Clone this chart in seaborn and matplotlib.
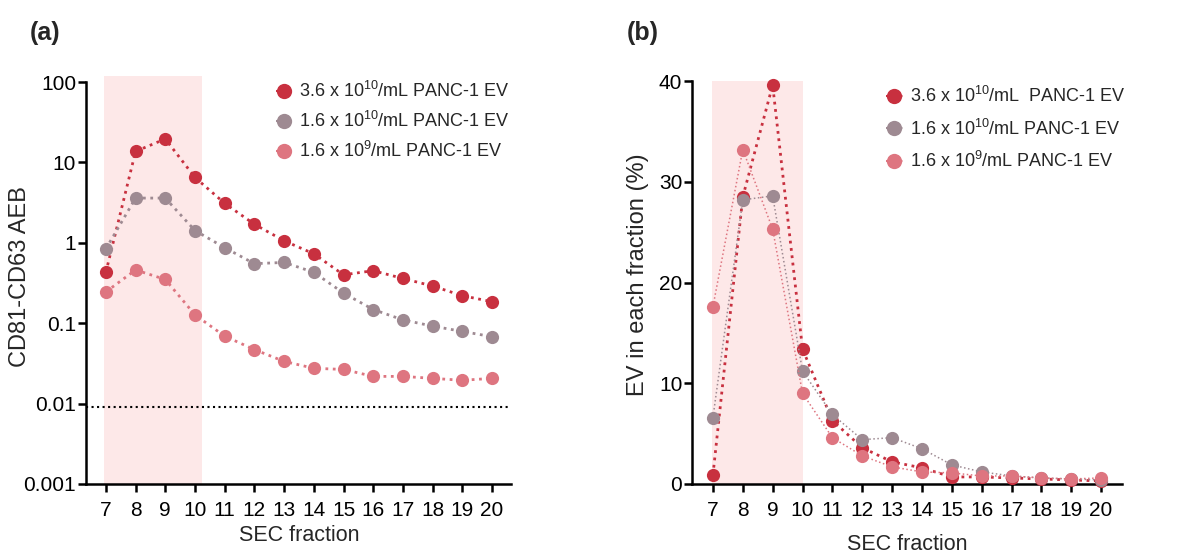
import numpy as np
import pandas as pd
import matplotlib
matplotlib.use("Agg")
import matplotlib.pyplot as plt
from matplotlib.lines import Line2D
import seaborn as sns

# SEC fractions collected
fractions = [7, 8, 9, 10, 11, 12, 13, 14, 15, 16, 17, 18, 19, 20]

series_labels_a = [
    "3.6 x 10$^{10}$/mL PANC-1 EV",
    "1.6 x 10$^{10}$/mL PANC-1 EV",
    "1.6 x 10$^{9}$/mL PANC-1 EV",
]
series_labels_b = [
    "3.6 x 10$^{10}$/mL  PANC-1 EV",
    "1.6 x 10$^{10}$/mL PANC-1 EV",
    "1.6 x 10$^{9}$/mL PANC-1 EV",
]

# (a) CD81-CD63 AEB per fraction
aeb_high = [0.43, 13.7, 19.6, 6.5, 3.1, 1.7, 1.06, 0.73, 0.40, 0.45, 0.36, 0.29, 0.22, 0.185]
aeb_mid = [0.84, 3.6, 3.6, 1.42, 0.87, 0.55, 0.57, 0.43, 0.237, 0.148, 0.11, 0.092, 0.079, 0.068]
aeb_low = [0.245, 0.46, 0.35, 0.127, 0.069, 0.047, 0.0335, 0.0275, 0.0266, 0.0218, 0.0218, 0.0206, 0.0195, 0.0206]
detection_limit = 0.009

# (b) EV in each fraction (%)
pct_high = [0.9, 28.5, 39.6, 13.4, 6.3, 3.6, 2.2, 1.6, 0.7, 0.7, 0.6, 0.5, 0.4, 0.3]
pct_mid = [6.6, 28.2, 28.6, 11.2, 6.9, 4.4, 4.6, 3.5, 1.9, 1.2, 0.8, 0.6, 0.5, 0.4]
pct_low = [17.6, 33.2, 25.3, 9.0, 4.6, 2.8, 1.7, 1.2, 1.1, 0.8, 0.8, 0.6, 0.5, 0.6]

colors = ["#c8303f", "#9e8a92", "#de7580"]
shade = "#fde8e8"

sns.set_theme(style="ticks")
plt.rcParams["font.family"] = ["Liberation Sans", "DejaVu Sans"]
plt.rcParams["mathtext.fontset"] = "custom"
plt.rcParams["mathtext.rm"] = "Liberation Sans"
plt.rcParams["mathtext.it"] = "Liberation Sans:italic"
plt.rcParams["mathtext.bf"] = "Liberation Sans:bold"

fig = plt.figure(figsize=(11.94, 5.56), dpi=100)
ax_a = fig.add_axes([0.0720, 0.1295, 0.356, 0.723])
ax_b = fig.add_axes([0.5796, 0.1295, 0.3601, 0.7248])


def style_axes(ax):
    sns.despine(ax=ax)
    for s in ("left", "bottom"):
        ax.spines[s].set_linewidth(1.8)
        ax.spines[s].set_color("black")
    ax.tick_params(axis="both", which="major", direction="out", length=6, width=1.8,
                   labelsize=15, colors="black")
    ax.tick_params(axis="y", pad=1)
    ax.tick_params(axis="x", pad=6)
    ax.tick_params(which="minor", length=0)
    ax.set_xticks(fractions)
    ax.set_xticklabels([str(f) for f in fractions])
    ax.grid(False)


def draw_series(ax, values, color, label, lw, ms=9.5):
    df = pd.DataFrame({"fraction": fractions, "value": values})
    sns.lineplot(data=df, x="fraction", y="value", ax=ax, color=color, linestyle=":",
                 linewidth=lw, marker="o", markersize=ms, markeredgewidth=0,
                 label=label, clip_on=False, zorder=3)


def place_labels(ax, xlab_xy, ylab_xy):
    ax.xaxis.set_label_coords(*xlab_xy)
    ax.yaxis.set_label_coords(*ylab_xy)
    ax.xaxis.label.set_va("center")
    ax.yaxis.label.set_va("center")


# ---- panel (a) ----
ax_a.axvspan(6.93, 10.25, ymin=0, ymax=1.015, color=shade, lw=0, zorder=0, clip_on=False)
for vals, col, lab in zip([aeb_high, aeb_mid, aeb_low], colors, series_labels_a):
    draw_series(ax_a, vals, col, lab, lw=2.0)
ax_a.axhline(detection_limit, color="black", linestyle=":", linewidth=1.5, zorder=2)
ax_a.set_yscale("log")
ax_a.set_ylim(0.001, 100)
ax_a.set_xlim(6.33, 20.64)
style_axes(ax_a)
yt_a = [0.001, 0.01, 0.1, 1, 10, 100]
ax_a.set_yticks(yt_a)
ax_a.set_yticklabels(["0.001", "0.01", "0.1", "1", "10", "100"])
ax_a.yaxis.set_minor_locator(matplotlib.ticker.NullLocator())
ax_a.set_xlabel("SEC fraction", fontsize=15.5)
ax_a.set_ylabel("CD81-CD63 AEB", fontsize=17)
place_labels(ax_a, (0.501, -0.127), (-0.155, 0.517))

# ---- panel (b) ----
ax_b.axvspan(6.98, 10.02, ymin=0, ymax=1.0, color=shade, lw=0, zorder=0)
for vals, col, lab, lw in zip([pct_high, pct_mid, pct_low], colors, series_labels_b, [2.0, 1.1, 1.1]):
    draw_series(ax_b, vals, col, lab, lw=lw)
ax_b.set_ylim(0, 40)
ax_b.set_xlim(6.3, 20.7)
style_axes(ax_b)
ax_b.set_yticks([0, 10, 20, 30, 40])
ax_b.set_yticklabels(["0", "10", "20", "30", "40"])
ax_b.set_xlabel("SEC fraction", fontsize=15.5)
ax_b.set_ylabel("EV in each fraction (%)", fontsize=17)
place_labels(ax_b, (0.5, -0.151), (-0.126, 0.519))

# legends
for ax, labels, anchor, spacing in [
    (ax_a, series_labels_a, (0.43, 1.02), 0.55),
    (ax_b, series_labels_b, (0.435, 1.005), 0.68),
]:
    handles = [Line2D([0], [0], color=c, linestyle=":", linewidth=1.5, marker="o",
                      markersize=11, markeredgewidth=0) for c in colors]
    ax.legend(handles, labels, loc="upper left", bbox_to_anchor=anchor, frameon=False,
              fontsize=13, handlelength=0.9, handletextpad=0.4, labelspacing=spacing,
              numpoints=1, borderaxespad=0)

fig.text(30 / 1194, 1 - 33 / 556, "(a)", fontsize=18, fontweight="bold", va="center", ha="left")
fig.text(627 / 1194, 1 - 33 / 556, "(b)", fontsize=18, fontweight="bold", va="center", ha="left")

fig.savefig("out.png", dpi=100)
